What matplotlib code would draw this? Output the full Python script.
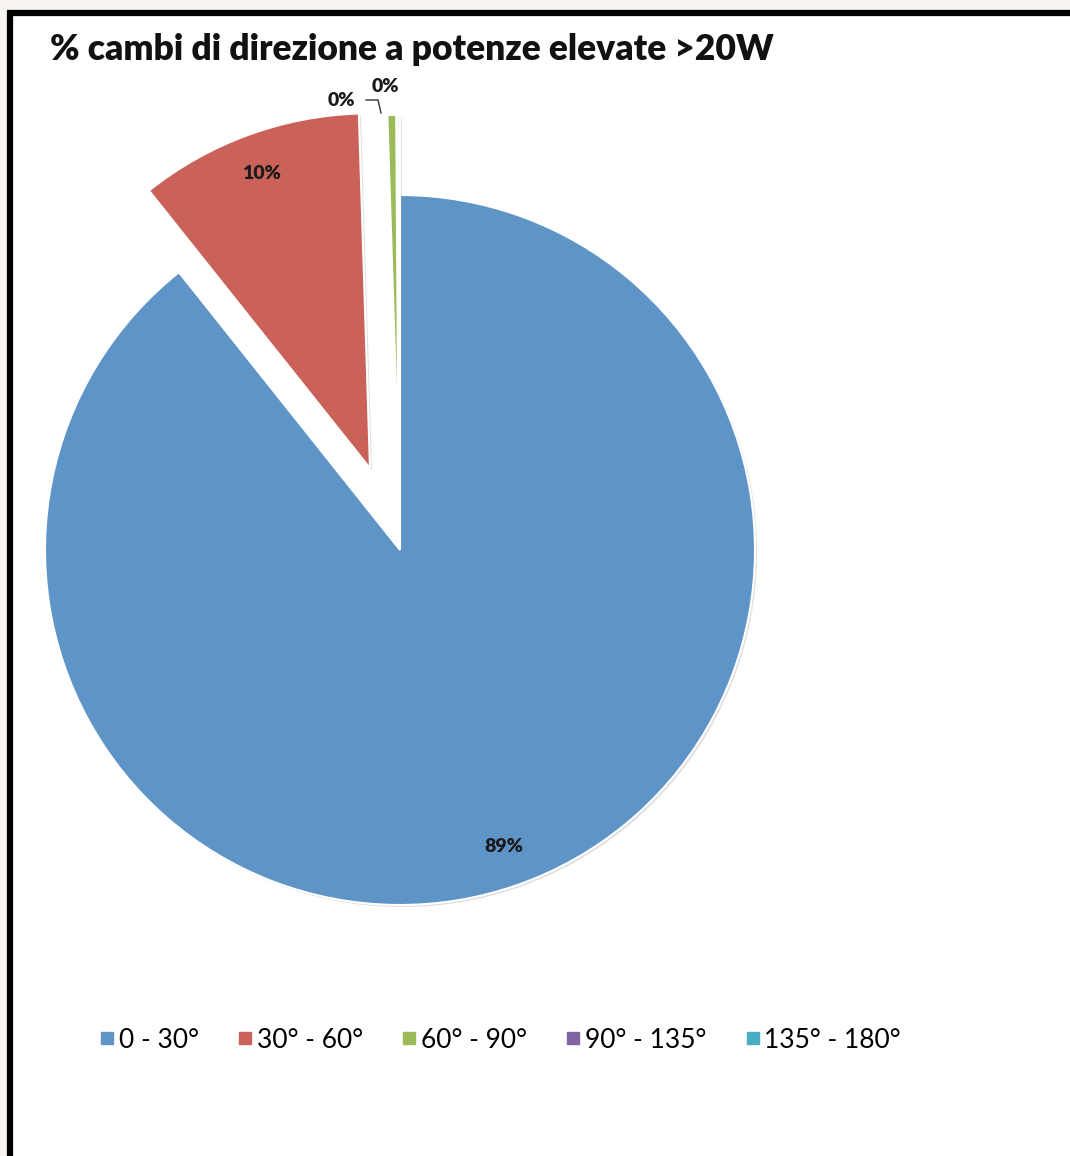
import matplotlib
matplotlib.use("Agg")
import matplotlib.pyplot as plt
from matplotlib.lines import Line2D
from matplotlib.patches import Rectangle
import matplotlib.patheffects as pe

# ---- data ----
title = "% cambi di direzione a potenze elevate >20W"
categories = ["0 - 30°", "30° - 60°", "60° - 90°", "90° - 135°", "135° - 180°"]
values = [89.3, 10.2, 0.4, 0.1, 0.0]
colors = ["#5e94c6", "#cb625a", "#9bbb59", "#8064a2", "#4bacc6"]
explode_px = [0, 87, 80, 80, 80]

W, H = 1070, 1156
fig = plt.figure(figsize=(W / 100, H / 100), dpi=100)
fig.patch.set_facecolor("#f8f4f2")
ax = fig.add_axes([0, 0, 1, 1])

# white panel with black frame
ax.add_patch(Rectangle((10, -20), 1100, 1163, facecolor="white",
                       edgecolor="black", linewidth=4.5, zorder=0))

cx, cy, R = 400, H - 550, 355
FAM = ["Lato", "DejaVu Sans"]


def fmt(p):
    return f"{p:.0f}%" if p >= 1 else ""


wedges, texts, autotexts = ax.pie(
    values, colors=colors, startangle=90, counterclock=False,
    explode=explode_px, center=(cx, cy), radius=R,
    autopct=fmt, pctdistance=0.885,
    wedgeprops=dict(edgecolor="white", linewidth=1.5),
    textprops=dict(fontsize=14, fontweight="heavy", color="#1a1a1a",
                   family=FAM),
    frame=True)
for w in wedges:
    w.set_path_effects([pe.SimplePatchShadow(offset=(1.5, -1.5), alpha=0.25,
                                             shadow_rgbFace="gray"),
                        pe.Normal()])

# small-slice labels
ax.text(341, H - 100, "0%", ha="center", va="center", fontsize=14,
        fontweight="heavy", family=FAM, color="#1a1a1a")
ax.plot([366, 378, 381], [H - 100, H - 100, H - 113], color="#333333",
        linewidth=1)
ax.text(385, H - 87, "0%", ha="center", va="center", fontsize=14,
        fontweight="heavy", family=FAM, color="#1a1a1a")

ax.set_xlim(0, W)
ax.set_ylim(0, H)
ax.set_aspect("equal")
ax.axis("off")

ax.text(50, H - 50, title, ha="left", va="center", fontsize=25.5,
        fontweight="heavy", family=FAM, color="#111111")

handles = [Line2D([], [], marker="s", linestyle="none", markersize=9,
                  markerfacecolor=c, markeredgecolor=c) for c in colors]
fig.legend(handles, categories, loc="center", bbox_to_anchor=(500 / W, 1 - 1040 / H),
           ncol=5, frameon=False, handlelength=0.6, handletextpad=0.15,
           columnspacing=1.45, prop=dict(family=FAM, size=19))

fig.savefig("out.png", dpi=100, facecolor=fig.get_facecolor())
